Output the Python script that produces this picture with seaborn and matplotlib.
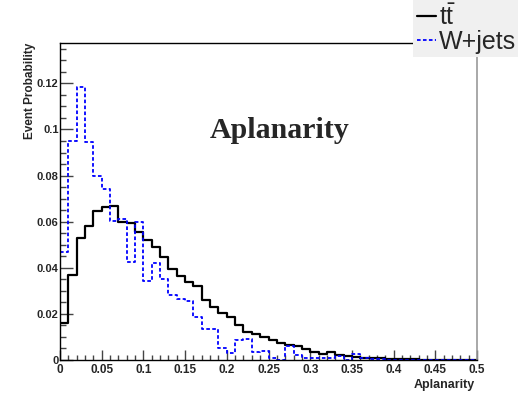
import numpy as np
import pandas as pd
import matplotlib
matplotlib.use("Agg")
import matplotlib.pyplot as plt
import seaborn as sns
from matplotlib.ticker import MultipleLocator, FuncFormatter

# ---- data -------------------------------------------------------------
bin_edges = [round(0.01 * i, 3) for i in range(51)]

ttbar_prob = [0.0160, 0.0370, 0.0530, 0.0580, 0.0645, 0.0662, 0.0667, 0.0600, 0.0594, 0.0555,
              0.0520, 0.0490, 0.0445, 0.0394, 0.0365, 0.0340, 0.0322, 0.0261, 0.0232, 0.0205,
              0.0187, 0.0152, 0.0123, 0.0112, 0.0100, 0.0087, 0.0074, 0.0067, 0.0060, 0.0048,
              0.0035, 0.0028, 0.0034, 0.0022, 0.0016, 0.0014, 0.0010, 0.0008, 0.0007, 0.0005,
              0.0004, 0.0003, 0.0003, 0.0002, 0.0002, 0.0001, 0.0001, 0.0001, 0.0001, 0.0001]

wjets_prob = [0.0467, 0.0949, 0.1186, 0.0945, 0.0797, 0.0742, 0.0601, 0.0613, 0.0425, 0.0600,
              0.0343, 0.0420, 0.0350, 0.0283, 0.0264, 0.0258, 0.0188, 0.0133, 0.0133, 0.0053,
              0.0029, 0.0087, 0.0090, 0.0036, 0.0040, 0.0007, 0.0000, 0.0061, 0.0022, 0.0007,
              0.0007, 0.0007, 0.0007, 0.0017, 0.0000, 0.0026, 0.0010, 0.0003, 0.0003, 0.0002,
              0.0002, 0.0001, 0.0001, 0.0001, 0.0001, 0.0001, 0.0001, 0.0001, 0.0001, 0.0001]

series_labels = [r"$\mathrm{t\bar{t}}$", "W+jets"]
title_text = "Aplanarity"
x_label = "Aplanarity"
y_label = "Event Probability"

# ---- style ------------------------------------------------------------
sns.set_style("ticks")
plt.rcParams["font.family"] = ["Liberation Sans", "DejaVu Sans"]
plt.rcParams["mathtext.fontset"] = "custom"
plt.rcParams["mathtext.rm"] = "Liberation Sans"
plt.rcParams["mathtext.it"] = "Liberation Sans:italic"
plt.rcParams["mathtext.bf"] = "Liberation Sans:bold"

W, H = 518, 395
fig = plt.figure(figsize=(W / 100, H / 100), dpi=100)
fig.patch.set_facecolor("white")
ax = fig.add_axes([60 / W, 1 - 360 / H, 417 / W, 317 / H])
ax.set_facecolor("white")

edges_arr = np.array(bin_edges)
centers = (edges_arr[:-1] + edges_arr[1:]) / 2
df = pd.DataFrame({
    "Aplanarity": np.concatenate([centers, centers]),
    "prob": ttbar_prob + wjets_prob,
    "sample": ["ttbar"] * len(centers) + ["wjets"] * len(centers),
})

sns.histplot(data=df[df["sample"] == "ttbar"], x="Aplanarity", weights="prob",
             bins=bin_edges, element="step", fill=False, color="black",
             linewidth=1.6, ax=ax, label=series_labels[0])
sns.histplot(data=df[df["sample"] == "wjets"], x="Aplanarity", weights="prob",
             bins=bin_edges, element="step", fill=False, color="#0000ff",
             linewidth=1.3, linestyle=(0, (2.0, 1.3)), ax=ax, label=series_labels[1])

ax.set_xlim(0, 0.5)
ax.set_ylim(0, 0.1375)

ax.xaxis.set_major_locator(MultipleLocator(0.05))
ax.xaxis.set_minor_locator(MultipleLocator(0.01))
ax.yaxis.set_major_locator(MultipleLocator(0.02))
ax.yaxis.set_minor_locator(MultipleLocator(0.005))
fmt = FuncFormatter(lambda v, p: ("%g" % round(v, 4)))
ax.xaxis.set_major_formatter(fmt)
ax.yaxis.set_major_formatter(fmt)

ax.tick_params(which="both", direction="in", top=False, right=False, color="#444444", width=1.0)
ax.tick_params(axis="x", which="major", length=7, pad=3, labelsize=8.5)
ax.tick_params(axis="x", which="minor", length=3.6)
ax.tick_params(axis="y", which="major", length=9, pad=1, labelsize=8)
ax.tick_params(axis="y", which="minor", length=4.3)
for lab in ax.get_xticklabels() + ax.get_yticklabels():
    lab.set_fontweight("bold")

for side in ["left", "bottom", "top"]:
    ax.spines[side].set_color("black")
    ax.spines[side].set_linewidth(1.0)
ax.spines["right"].set_color("#999999")
ax.spines["right"].set_linewidth(1.2)

ax.set_xlabel("")
ax.set_ylabel("")
fig.text(475 / W, 1 - 385 / H, x_label, ha="right", va="center",
         fontsize=9, fontweight="bold")
fig.text(30 / W, 1 - 43 / H, y_label, ha="center", va="top", rotation=90,
         fontsize=8.5, fontweight="bold")

fig.text(280 / W, 1 - 131 / H, title_text, ha="center", va="center",
         fontsize=21.5, fontweight="bold", family=["Liberation Serif", "DejaVu Serif"])

handles, labels = ax.get_legend_handles_labels()
leg = fig.legend(handles, labels, loc="upper left", bbox_to_anchor=(413 / W, 1.0),
                 bbox_transform=fig.transFigure, fontsize=18, frameon=True,
                 fancybox=False, facecolor="#f0f0f0", edgecolor="none", framealpha=1,
                 handlelength=0.75, handletextpad=0.15, labelspacing=0.0,
                 borderpad=0.15, borderaxespad=0.0)
leg.set_zorder(10)

fig.savefig("out.png", dpi=100, facecolor="white")
